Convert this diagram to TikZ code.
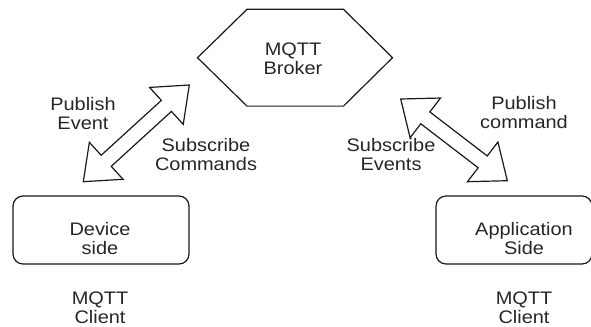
\documentclass[tikz,border=0pt]{standalone}
\usepackage{fontspec}
\setmainfont{Liberation Sans}[FakeStretch=1.1]
\usetikzlibrary{calc}

\begin{document}
\begin{tikzpicture}[x=0.75pt,y=0.75pt,yscale=-1,xscale=1,
  lbl/.style={align=center,inner sep=0pt,anchor=base,text=black!85,
    font=\fontsize{13.6}{14.25}\selectfont},
  sidebox/.style={draw=black!90,line width=0.9pt,rounded corners=7.5pt,
    minimum height=51pt,inner sep=0pt},
  blockarrow/.style={draw=black!90,line width=0.9pt,line join=miter}]
\useasboundingbox (0,0) rectangle (591,326);

% Text Node
\node[lbl] (broker) at (293,74) {MQTT\\Broker};
%Shape: Hexagon
\draw[black!90,line width=0.9pt] (295,57.7) +(-97.5,0) -- +(-48,-48.4) -- +(48.5,-48.4)
  -- +(97.5,0) -- +(48.5,48.4) -- +(-48,48.4) -- cycle;

%Shape: Rounded Rect
\node[sidebox,minimum width=132pt] (devBox) at (101,230) {};
\node[sidebox,minimum width=117pt] (appBox) at (514,230) {};
% Text Node
\node[lbl] (devLbl) at (100,254) {Device\\side};
% Text Node
\node[lbl] (appLbl) at (524,254) {Application\\Side};
% Text Node
\node[lbl] (devClient) at (100,323) {MQTT\\Client};
% Text Node
\node[lbl] (appClient) at (524,323) {MQTT\\Client};

%Double Arrows
\coordinate (devEnd) at (83.3,181.7);
\coordinate (brokerL) at (189.3,85);
\coordinate (brokerR) at (400.7,99);
\coordinate (appEnd) at (507.3,180.7);
\foreach \a/\b in {devEnd/brokerL,brokerR/appEnd}
  \draw[blockarrow] (\a) -- ($(\a)!23.25pt!(\b)!18.75pt!90:(\b)$)
    -- ($(\a)!23.25pt!(\b)!5.6pt!90:(\b)$) -- ($(\b)!23.25pt!(\a)!5.6pt!-90:(\a)$)
    -- ($(\b)!23.25pt!(\a)!18.75pt!-90:(\a)$) -- (\b)
    -- ($(\b)!23.25pt!(\a)!18.75pt!90:(\a)$) -- ($(\b)!23.25pt!(\a)!5.6pt!90:(\a)$)
    -- ($(\a)!23.25pt!(\b)!5.6pt!-90:(\b)$) -- ($(\a)!23.25pt!(\b)!18.75pt!-90:(\b)$)
    -- cycle;

% Text Node
\node[lbl] (pubEvent) at (83,129) {Publish\\Event};
% Text Node
\node[lbl] (subCmd) at (206,170) {Subscribe\\Commands};
% Text Node
\node[lbl] (pubCmd) at (524,128.5) {Publish\\command};
% Text Node
\node[lbl] (subEvent) at (391,170) {Subscribe\\Events};

\end{tikzpicture}
\end{document}
